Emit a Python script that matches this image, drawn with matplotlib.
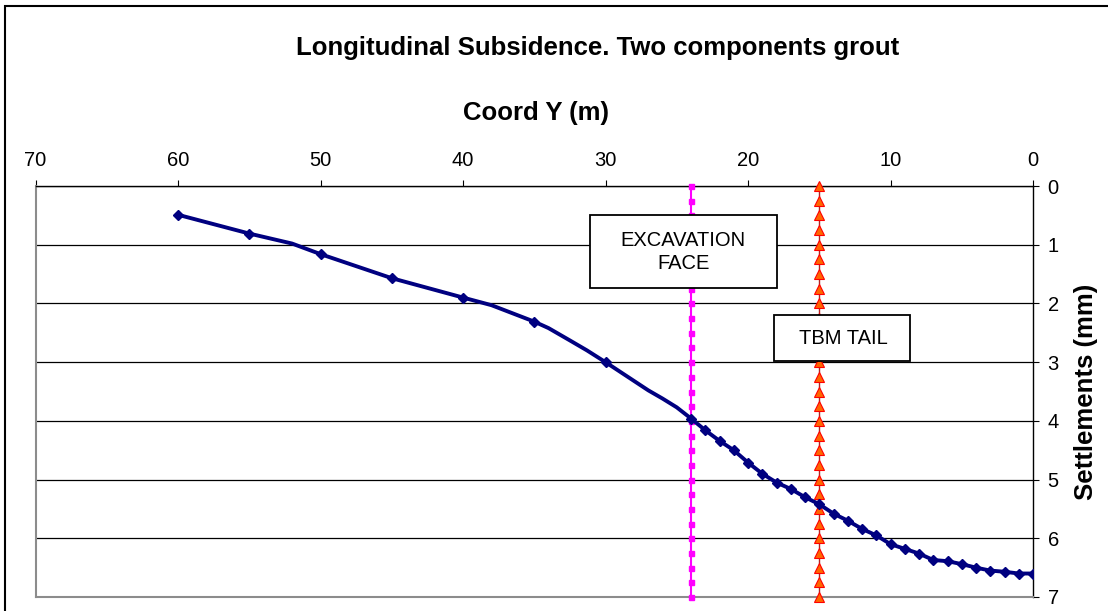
import matplotlib
matplotlib.use("Agg")
import matplotlib.pyplot as plt
from matplotlib.patches import Rectangle

plt.rcParams['font.family'] = ['Liberation Sans', 'DejaVu Sans']

# ---- data ----
coord_y = [60, 55, 52, 50, 45, 40, 38, 35, 34, 32.5, 31.3, 30, 27, 26, 25,
           24, 23, 22, 21, 20, 19, 18, 17, 16, 15, 14, 13, 12, 11, 10,
           9, 8, 7, 6, 5, 4, 3, 2, 1, 0]
settlement = [0.49, 0.81, 0.98, 1.16, 1.57, 1.90, 2.03, 2.31, 2.42, 2.63, 2.80, 3.00,
              3.48, 3.62, 3.77,
              3.96, 4.16, 4.34, 4.50, 4.71, 4.90, 5.05, 5.16, 5.30, 5.42, 5.58, 5.70,
              5.84, 5.95, 6.10, 6.18, 6.26, 6.37, 6.39, 6.44, 6.50, 6.55, 6.57, 6.60, 6.60]
marked = [True, True, False, True, True, True, False, True, False, False, False, True,
          False, False, False] + [True] * 25

face_x = 24
tail_x = 15
line_depths = [0, 0.25, 0.5, 0.75, 1, 1.25, 1.5, 1.75, 2, 2.25, 2.5, 2.75, 3, 3.25,
               3.5, 3.75, 4, 4.25, 4.5, 4.75, 5, 5.25, 5.5, 5.75, 6, 6.25, 6.5, 6.75, 7]

x_ticks = [70, 60, 50, 40, 30, 20, 10, 0]
y_ticks = [0, 1, 2, 3, 4, 5, 6, 7]

title = "Longitudinal Subsidence. Two components grout"
xlabel = "Coord Y (m)"
ylabel = "Settlements (mm)"

# ---- figure ----
W, H = 1108, 611
fig = plt.figure(figsize=(W / 100, H / 100), dpi=100)
fig.patch.set_facecolor('white')

# outer chart border (top & left visible)
fig.add_artist(Rectangle((5 / W, -0.2), 1.5, (H - 6) / H + 0.2,
                         transform=fig.transFigure, fill=False,
                         edgecolor='black', lw=1.5))

ax_l, ax_r, ax_t, ax_b = 35.5, 1033, 186, 597
ax = fig.add_axes([ax_l / W, (H - ax_b) / H, (ax_r - ax_l) / W, (ax_b - ax_t) / H])

ax.set_xlim(70, 0)
ax.set_ylim(7, 0)

ax.set_xticks(x_ticks)
ax.set_yticks(y_ticks)
ax.xaxis.tick_top()
ax.yaxis.tick_right()
ax.tick_params(axis='x', direction='out', length=4.5, width=0.8, pad=7,
               labelsize=14.5, colors='black')
ax.tick_params(axis='y', direction='out', length=4.5, width=0.8, pad=6,
               labelsize=14.5, colors='black')

for s in ['left', 'bottom']:
    ax.spines[s].set_color('#8c8c8c')
    ax.spines[s].set_linewidth(1.5)
for s in ['top', 'right']:
    ax.spines[s].set_color('black')
    ax.spines[s].set_linewidth(1.0)

ax.yaxis.grid(True, color='black', lw=0.9)
ax.set_axisbelow(True)

# main settlement curve
ax.plot(coord_y, settlement, color='#000080', lw=2.8, marker='D', ms=5.5,
        markevery=marked, zorder=4)

# excavation face line
ax.plot([face_x] * len(line_depths), line_depths, color='#FF00FF', lw=1.5,
        marker='s', ms=3.6, mfc='#FF00FF', mec='#FF00FF',
        zorder=3, clip_on=False)
# TBM tail line
ax.plot([tail_x] * len(line_depths), line_depths, color='#B22222', lw=1.0,
        marker='^', ms=6.5, mfc='#FF6600', mec='#FF0000', mew=0.8,
        zorder=3, clip_on=False)

# annotation boxes
ax.add_patch(Rectangle((18.0, 0.49), 13.1, 1.25, facecolor='white',
                       edgecolor='black', lw=1.3, zorder=6))
ax.text(24.55, 1.12, "EXCAVATION\nFACE", ha='center', va='center',
        fontsize=14.5, linespacing=1.3, zorder=7)
ax.add_patch(Rectangle((8.63, 2.20), 9.55, 0.78, facecolor='white',
                       edgecolor='black', lw=1.3, zorder=6))
ax.text(13.3, 2.59, "TBM TAIL", ha='center', va='center',
        fontsize=14.5, zorder=7)

# labels
ax.set_xlabel(xlabel, fontsize=18.5, fontweight='bold')
ax.xaxis.set_label_position('top')
ax.xaxis.set_label_coords((536 - ax_l) / (ax_r - ax_l), 1 + (ax_t - 113) / (ax_b - ax_t))
ax.xaxis.label.set_va('center')

ax.set_ylabel(ylabel, fontsize=18.5, fontweight='bold', rotation=90)
ax.yaxis.set_label_position('right')
ax.yaxis.set_label_coords((1086 - ax_l) / (ax_r - ax_l), 0.5)
ax.yaxis.label.set_va('center')

fig.text(598 / W, 1 - 48 / H, title, ha='center', va='center',
         fontsize=18.5, fontweight='bold')

fig.savefig('out.png', dpi=100)
